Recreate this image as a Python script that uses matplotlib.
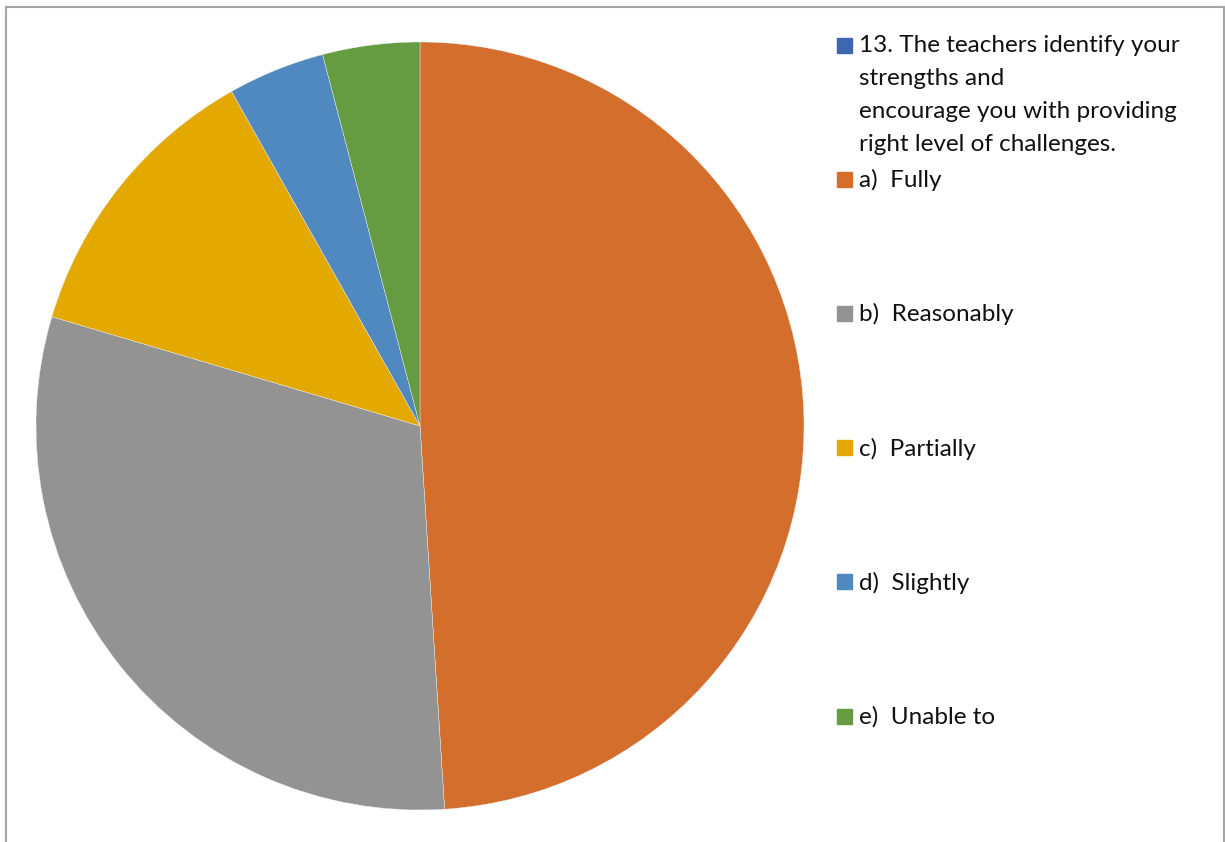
import matplotlib.pyplot as plt
from matplotlib.patches import Rectangle
from matplotlib.lines import Line2D

plt.rcParams['font.family'] = ['Lato', 'DejaVu Sans']

# survey responses for question 13
series_title = ("13. The teachers identify your\nstrengths and\n"
                "encourage you with providing\nright level of challenges.")
answers = ['a)  Fully', 'b)  Reasonably', 'c)  Partially', 'd)  Slightly', 'e)  Unable to']
counts = [24, 15, 6, 2, 2]
colors = ['#D36E2C', '#939393', '#E3A900', '#4F89BF', '#659B41']
title_color = '#3F67B0'

W, H = 1225, 842
fig = plt.figure(figsize=(W / 100, H / 100), dpi=100)

# pie area, in pixels from the top-left corner
cx, cy, r = 420, 426, 384
ax = fig.add_axes([(cx - r) / W, (H - cy - r) / H, 2 * r / W, 2 * r / H])
ax.pie(counts, colors=colors, startangle=90, counterclock=False,
       wedgeprops=dict(edgecolor='#EDEDED', linewidth=0.3))
ax.set_xlim(-1, 1)
ax.set_ylim(-1, 1)
ax.axis('off')

# legend drawn by hand: marker square + text, one slot per entry
def legend_entry(y_px, color, text):
    size = 15
    fig.patches.append(Rectangle((836.5 / W, (H - y_px - size / 2) / H),
                                 size / W, size / H, color=color,
                                 transform=fig.transFigure, figure=fig))
    fig.text(859 / W, (H - y_px + 10) / H, text, fontsize=17.5, color='#111111',
             va='top', ha='left', linespacing=1.7,
             transform=fig.transFigure)

legend_entry(45, title_color, series_title)
for i, (lab, col) in enumerate(zip(answers, colors)):
    legend_entry(179 + i * 134.3, col, lab)

# chart frame (bottom edge is cropped off)
frame = dict(color='#A6A6A6', linewidth=1.5, transform=fig.transFigure)
fig.lines.append(Line2D([6 / W, 6 / W], [0, (H - 7) / H], **frame))
fig.lines.append(Line2D([6 / W, 1224 / W], [(H - 7) / H, (H - 7) / H], **frame))
fig.lines.append(Line2D([1224 / W, 1224 / W], [0, (H - 7) / H], **frame))

fig.savefig('out.png', dpi=100, facecolor='white')
